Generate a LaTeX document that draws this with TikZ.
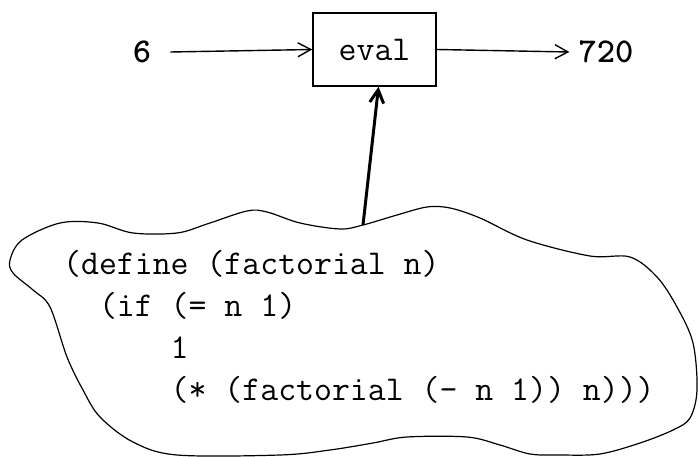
\documentclass[tikz,border=0pt]{standalone}
\usepackage{fontspec}
\usepackage{tikz}
\usetikzlibrary{arrows.meta, positioning}

\begin{document}
\begin{tikzpicture}[
        x=1pt, y=-1pt,
        box/.style={rectangle, draw, line width=1.5pt, minimum width=123pt, minimum height=73pt, font=\ttfamily\fontsize{34.8}{40}\selectfont},
        lbl/.style={font=\ttfamily\bfseries\fontsize{34.8}{40}\selectfont, inner sep=0pt},
        code/.style={font=\ttfamily\fontsize{34.8}{42}\selectfont, align=left, inner sep=0pt, anchor=north west},
        arr/.style={-{Straight Barb[length=13pt, width=14pt]}, line width=1.4pt}
    ]
        \useasboundingbox (0,0) rectangle (699,457);

        % Evaluator box
        \node[box] (eval) at (374.5, 49.5) {eval};

        % Input and output
        \node[lbl] (in) at (142, 52) {6};
        \node[lbl] (out) at (606, 52) {720};
        \draw[arr] (in.east) ++(19,0) coordinate (instart) -- (eval.west);
        \draw[arr] (eval.east) -- ([xshift=-9pt]out.west);

        % Program cloud
        \draw[line width=1.2pt] plot[smooth cycle, tension=0.55] coordinates {
            (10,260) (22,240) (60,223) (98,223) (133,233) (177,233) (207,224)
            (247,211) (267,212) (300,223) (340,229) (363,225) (397,215) (427,207)
            (450,208) (480,218) (527,240) (590,256) (630,257) (657,277) (677,307)
            (693,343) (697,390) (690,418) (673,430) (640,443) (600,454) (560,455)
            (530,454) (500,445) (467,437) (407,437) (373,443) (330,450) (280,455)
            (177,455) (133,442) (100,417) (83,390) (67,357) (50,307) (33,290) (13,273)};
        \coordinate (cloudtop) at (363, 225);

        \node[code] (prog) at (63, 250) {(define (factorial n)\\
\ \ (if (= n 1)\\
\ \ \ \ \ \ 1\\
\ \ \ \ \ \ (* (factorial (- n 1)) n)))};

        % Program feeds the evaluator
        \draw[arr, line width=3pt] (cloudtop) -- ([xshift=4pt]eval.south);
\end{tikzpicture}
\end{document}
